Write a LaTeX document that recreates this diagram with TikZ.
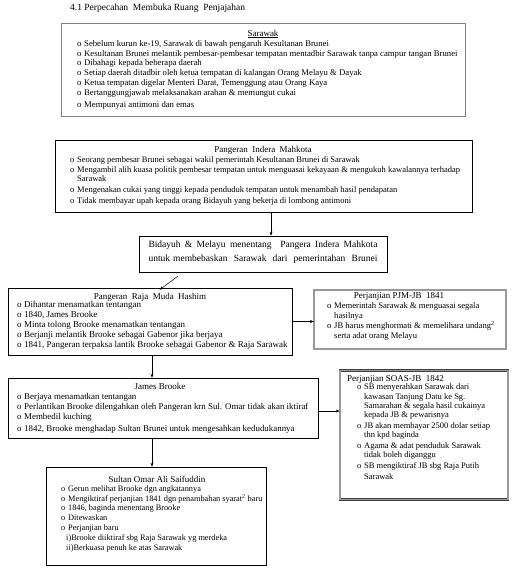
\documentclass[tikz,border=0pt]{standalone}
\usepackage{fontspec}
\setmainfont{Liberation Serif}
\usetikzlibrary{arrows.meta}
\newcommand{\bl}{\makebox[7pt][l]{o}}
\newcommand{\ct}{\hspace*{7pt}}
\begin{document}
\begin{tikzpicture}[x=1pt,y=-1pt,
  box/.style={draw=black, line width=0.6pt, rectangle, inner sep=0pt},
  greybox/.style={draw=black!50, line width=0.6pt, rectangle, inner sep=0pt},
  dbox/.style={draw=black!75, line width=0.4pt, double=black!40, double distance=1.8pt, rectangle, inner sep=0pt},
  hd/.style={font=\fontsize{9}{10}\selectfont, inner sep=0pt, anchor=base},
  lst/.style={font=\fontsize{8.5}{9.8}\selectfont, inner sep=0pt, anchor=north west, align=left},
  arr/.style={-{Stealth[length=4pt,width=3pt]}, line width=0.5pt}
]
\useasboundingbox[fill=white] (0,0) rectangle (514,573);

% title
\node[font=\fontsize{9.5}{11}\selectfont, inner sep=0pt, anchor=base west] (ttl) at (70,10)
  {4.1 Perpecahan\ \ Membuka Ruang\ \ Penjajahan};

% Sarawak
\node[greybox, minimum width=404pt, minimum height=93pt] (sar) at (263,69.5) {};
\node[hd] (sarH) at (263,36) {\underline{Sarawak}};
\node[lst, font=\fontsize{8.7}{9.8}\selectfont] (sarL) at (77,40.1) {%
\bl Sebelum kurun ke-19, Sarawak di bawah pengaruh Kesultanan Brunei\\
\bl Kesultanan Brunei melantik pembesar-pembesar tempatan mentadbir Sarawak tanpa campur tangan Brunei\\
\bl Dibahagi kepada beberapa daerah\\
\bl Setiap daerah ditadbir oleh ketua tempatan di kalangan Orang Melayu \& Dayak\\
\bl Ketua tempatan digelar Menteri Darat, Temenggung atau Orang Kaya\\
\bl Bertanggungjawab melaksanakan arahan \& memungut cukai\\[2pt]
\bl Mempunyai antimoni dan emas};

% Pangeran Indera Mahkota
\node[box, minimum width=417pt, minimum height=72pt] (pim) at (263.5,176) {};
\node[hd] (pimH) at (263,152) {Pangeran\ \ Indera\ \ Mahkota};
\node[lst] (pimL) at (70,156.2) {%
\bl Seorang pembesar Brunei sebagai wakil pemerintah Kesultanan Brunei di Sarawak\\
\bl Mengambil alih kuasa politik pembesar tempatan untuk menguasai kekayaan \& mengukuh kawalannya terhadap\\
\ct Sarawak\\[1pt]
\bl Mengenakan cukai yang tinggi kepada penduduk tempatan untuk menambah hasil pendapatan\\[1pt]
\bl Tidak membayar upah kepada orang Bidayuh yang bekerja di lombong antimoni};

% Bidayuh
\node[box, minimum width=248pt, minimum height=36pt] (bid) at (263,254) {};
\node[font=\fontsize{9.5}{14}\selectfont, inner sep=0pt, anchor=north, align=center] (bidT) at (263,241)
  {\makebox[229pt][s]{Bidayuh \& Melayu menentang\ \ Pangera Indera Mahkota}\\
   \makebox[229pt][s]{untuk membebaskan\ \ Sarawak\ \ dari\ \ pemerintahan\ \ Brunei}};

% Raja Muda Hashim
\node[box, minimum width=284pt, minimum height=67pt] (raja) at (150,321.5) {};
\node[hd] (rajaH) at (150,299) {Pangeran\ \ Raja\ \ Muda\ \ Hashim};
\node[lst, font=\fontsize{9}{9.9}\selectfont] (rajaL) at (17,301) {%
\bl Dihantar menamatkan tentangan\\
\bl 1840, James Brooke\\
\bl Minta tolong Brooke menamatkan tentangan\\
\bl Berjanji melantik Brooke sebagai Gabenor jika berjaya\\
\bl 1841, Pangeran terpaksa lantik Brooke sebagai Gabenor \& Raja Sarawak};

% PJM-JB 1841
\node[dbox, minimum width=192pt, minimum height=59pt] (pjm) at (410,319.5) {};
\node[hd] (pjmH) at (399,298) {Perjanjian PJM-JB\ \ 1841};
\node[lst, font=\fontsize{8.6}{9.5}\selectfont] (pjmL) at (327,302.6) {%
\bl Memerintah Sarawak \& menguasai segala\\
\ct hasilnya\\
\bl JB harus menghormati \& memelihara undang\textsuperscript{2}\\
\ct serta adat orang Melayu};

% James Brooke
\node[box, minimum width=310pt, minimum height=60pt] (james) at (163,408) {};
\node[hd] (jamesH) at (160,389) {James Brooke};
\node[lst, font=\fontsize{8.9}{10}\selectfont] (jamesL) at (17,393) {%
\bl Berjaya menamatkan tentangan\\
\bl Perlantikan Brooke dilengahkan oleh Pangeran krn Sul. Omar tidak akan iktiraf\\
\bl Membedil kuching\\[2pt]
\bl 1842, Brooke menghadap Sultan Brunei untuk mengesahkan kedudukannya};

% SOAS-JB 1842
\node[dbox, minimum width=168pt, minimum height=129pt] (soas) at (424,435) {};
\node[hd, anchor=base west] (soasH) at (347,381) {Perjanjian SOAS-JB\ \ 1842};
\node[lst, font=\fontsize{8.5}{9.3}\selectfont] (soasL) at (357,383.7) {%
\bl SB menyerahkan Sarawak dari\\
\ct kawasan Tanjung Datu ke Sg.\\
\ct Samarahan \& segala hasil cukainya\\
\ct kepada JB \& pewarisnya\\[1.5pt]
\bl JB akan membayar 2500 dolar setiap\\
\ct thn kpd baginda\\[1.5pt]
\bl Agama \& adat penduduk Sarawak\\
\ct tidak boleh diganggu\\[1.5pt]
\bl SB mengiktiraf JB sbg Raja Putih\\[1.5pt]
\ct Sarawak};

% Sultan Omar Ali Saifuddin
\node[box, minimum width=220pt, minimum height=98pt] (sultan) at (156,516) {};
\node[hd] (sultanH) at (157,482) {Sultan Omar Ali Saifuddin};
\node[lst, font=\fontsize{8.3}{9.8}\selectfont] (sultanL) at (61,485.4) {%
\bl Gerun melihat Brooke dgn angkatannya\\
\bl Mengiktiraf perjanjian 1841 dgn penambahan syarat\textsuperscript{2} baru\\
\bl 1846, baginda menentang Brooke\\
\bl Ditewaskan\\
\bl Perjanjian baru\\
\hspace*{5pt}i)Brooke diiktiraf sbg Raja Sarawak yg merdeka\\
\hspace*{5pt}ii)Berkuasa penuh ke atas Sarawak};

% connectors
\draw[arr] ([xshift=7.5pt]pim.south) -- ([xshift=8pt]bid.north);
\draw[arr] ([shift={(39pt,-4pt)}]bid.south west) -- ([shift={(152pt,-2pt)}]raja.north west);
\draw[arr] (raja.east) -- (raja.east -| pjm.west);
\draw[arr] ([xshift=2pt]raja.south) -- ([xshift=2pt]raja.south |- james.north);
\draw[arr] ([yshift=-3pt]james.east) -- ([yshift=-3pt]james.east -| soas.west);
\draw[arr] ([xshift=-11pt]james.south) -- ([xshift=-11pt]james.south |- sultan.north);
\end{tikzpicture}
\end{document}
